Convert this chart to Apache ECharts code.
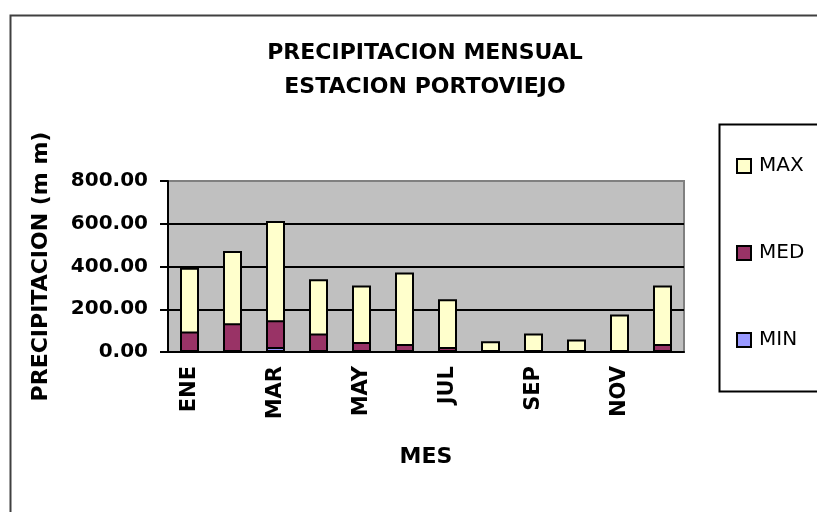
<!DOCTYPE html>
<html>
<head>
<meta charset="utf-8">
<script src="https://cdn.jsdelivr.net/npm/echarts@6/dist/echarts.min.js"></script>
<style>
  html, body { margin: 0; padding: 0; background: #fff; }
  #chart { width: 817px; height: 512px; }
</style>
</head>
<body>
<div id="chart"></div>
<script>
const months = ["ENE", "FEB", "MAR", "ABR", "MAY", "JUN", "JUL", "AGO", "SEP", "OCT", "NOV", "DIC"];
const maxValues = [394, 472, 613, 340, 311, 372, 247, 50, 86, 58, 175, 311];
const medValues = [96, 135, 149, 86, 47, 38, 23, 2, 4, 2, 6, 38];
const minValues = [2, 5, 23, 4, 0, 0, 0, 0, 0, 0, 2, 0];
const yTicks = [0, 200, 400, 600, 800];

const font = "DejaVu Sans";
const chart = echarts.init(document.getElementById("chart"));

function barSeries(name, data, color, z) {
  return {
    name,
    type: "bar",
    data,
    barWidth: 19,
    barGap: "-100%",
    z,
    itemStyle: { color, borderColor: "#000", borderWidth: 2 }
  };
}

chart.setOption({
  animation: false,
  textStyle: { fontFamily: font },
  title: {
    text: "PRECIPITACION MENSUAL\nESTACION PORTOVIEJO",
    left: 420,
    top: 31,
    textAlign: "center",
    textStyle: { fontFamily: font, fontWeight: "bold", fontSize: 22, lineHeight: 34, color: "#000" }
  },
  legend: {
    orient: "vertical",
    left: 731,
    top: 151,
    itemWidth: 14,
    itemHeight: 14,
    itemGap: 67,
    icon: "rect",
    data: ["MAX", "MED", "MIN"],
    textStyle: { fontFamily: font, fontSize: 20, lineHeight: 20, color: "#000", padding: [0, 0, 0, 3] }
  },
  grid: {
    left: 168, right: 133, top: 181, bottom: 160,
    show: true, backgroundColor: "#c0c0c0", borderColor: "#808080", borderWidth: 2
  },
  xAxis: {
    type: "category",
    data: months,
    name: "MES",
    nameLocation: "middle",
    nameGap: 94,
    nameTextStyle: { fontFamily: font, fontWeight: "bold", fontSize: 22, color: "#000" },
    axisLine: { lineStyle: { color: "#000", width: 2 } },
    axisTick: { length: 6, interval: 0, lineStyle: { color: "#000", width: 2 } },
    axisLabel: { interval: 1, rotate: 90, margin: 14, fontFamily: font, fontWeight: "bold", fontSize: 21, color: "#000" }
  },
  yAxis: {
    type: "value",
    min: yTicks[0],
    max: yTicks[yTicks.length - 1],
    interval: 200,
    name: "PRECIPITACION (m m)",
    nameLocation: "middle",
    nameRotate: 90,
    nameGap: 116,
    nameTextStyle: { fontFamily: font, fontWeight: "bold", fontSize: 22, color: "#000" },
    axisLine: { show: true, lineStyle: { color: "#000", width: 2 } },
    axisTick: { show: true, length: 8, lineStyle: { color: "#000", width: 2 } },
    axisLabel: { margin: 20, fontFamily: font, fontWeight: "bold", fontSize: 20, color: "#000", formatter: v => v.toFixed(2) },
    splitLine: { lineStyle: { color: ["#000", "#000", "#000", "#000", "#808080"], width: 2 } }
  },
  graphic: [
    { type: "rect", left: 8, top: 13, shape: { width: 900, height: 600 }, style: { fill: null, stroke: "#404040", lineWidth: 2 }, silent: true },
    { type: "rect", left: 717, top: 122, shape: { width: 200, height: 267 }, style: { fill: null, stroke: "#000", lineWidth: 2 }, silent: true }
  ],
  series: [
    barSeries("MAX", maxValues, "#ffffcc", 2),
    barSeries("MED", medValues, "#993366", 3),
    barSeries("MIN", minValues, "#9999ff", 4)
  ]
});
</script>
</body>
</html>
